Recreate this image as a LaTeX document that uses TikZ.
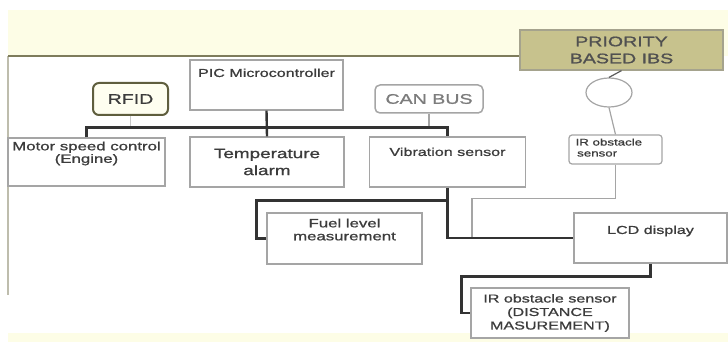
\documentclass[tikz,border=0pt]{standalone}
\usepackage{fontspec}
\newfontfamily\diagfont[FakeStretch=1.4, FakeBold=1]{Liberation Sans}
\usetikzlibrary{positioning, shapes.geometric}
\definecolor{band}{HTML}{FDFDE6}
\definecolor{rule}{HTML}{7E7C5C}
\definecolor{khaki}{HTML}{C7C28D}
\definecolor{olive}{HTML}{5F5E3E}
\definecolor{ink}{HTML}{3C3C3C}
\definecolor{inksoft}{HTML}{7C7C7C}
\definecolor{edge}{HTML}{A5A5A5}
\definecolor{wirebus}{HTML}{333333}

\begin{document}
\begin{tikzpicture}[x=1pt, y=-1pt,
  box/.style={draw=edge, line width=1.2pt, fill=white, inner sep=0pt},
  txt/.style={font=\diagfont\fontsize{11.5}{13.5}\selectfont, text=ink, align=center, inner sep=0pt},
  big/.style={font=\diagfont\fontsize{14}{17}\selectfont},
  bus/.style={line width=2.4pt, draw=wirebus},
  wire/.style={line width=1.2pt, draw=edge}
]
\useasboundingbox (0,0) rectangle (728,342);
% page background
\fill[white] (0,0) rectangle (728,342);
\fill[band] (8,10) rectangle (728,56);
\fill[band] (8,333) rectangle (728,342);
\draw[rule!50, line width=1.5pt] (8,56) -- (8,295);

\node[box, fill=khaki, draw=rule!70, minimum width=203pt, minimum height=40pt] (pri) at (621.5,50) {};
\draw[rule, line width=2pt] (8,56) -- (pri.west |- 8,56);
\node[box, fill=khaki, draw=rule!70, minimum width=203pt, minimum height=40pt, txt, big, text=ink!90] at (621.5,50) {PRIORITY\\BASED IBS};

% boxes
\node[box, minimum width=153pt, minimum height=50pt] (pic) at (266.5,85) {};
\node[txt, below=9pt of pic.north] {PIC Microcontroller};

\node[box, txt, big, rounded corners=6pt, draw=olive, line width=2pt, fill=band!60,
      minimum width=75pt, minimum height=32pt] (rfid) at (130.5,99) {RFID};
\node[box, txt, big, text=inksoft, rounded corners=5pt, line width=1.5pt,
      minimum width=108pt, minimum height=28pt] (can) at (429,99) {CAN BUS};

\node[box, ellipse, minimum width=46pt, minimum height=29pt] (ell) at (609,92.5) {};
\node[box, rounded corners=3pt, minimum width=93pt, minimum height=29pt] (irs) at (615.5,149.5) {};
\node[txt, align=left, anchor=north west, font=\diagfont\fontsize{9.5}{11}\selectfont]
     at ([xshift=7pt,yshift=-4pt]irs.north west) {IR obstacle\\\,sensor};

\node[box, minimum width=157pt, minimum height=48pt] (mot) at (86.5,162) {};
\node[txt, below=4pt of mot.north, font=\diagfont\fontsize{12}{12.5}\selectfont] {Motor speed control\\(Engine)};
\node[box, txt, font=\diagfont\fontsize{13.5}{17}\selectfont, minimum width=154pt, minimum height=50pt] (temp) at (267,162) {Temperature\\alarm};
\node[box, minimum width=156pt, minimum height=50pt] (vib) at (447.5,162) {};
\node[txt, below=11pt of vib.north] {Vibration sensor};

\node[box, minimum width=155pt, minimum height=51pt] (fuel) at (344.5,238.5) {};
\node[txt, below=6pt of fuel.north, font=\diagfont\fontsize{12}{13}\selectfont] {Fuel level\\measurement};
\node[box, minimum width=153pt, minimum height=50pt] (lcd) at (650.5,238) {};
\node[txt, below=13pt of lcd.north] {LCD display};
\node[box, txt, minimum width=158pt, minimum height=50pt] (irb) at (550,313) {IR obstacle sensor\\(DISTANCE\\MASUREMENT)};

% connectors
\coordinate (lcdjoin) at (472,238);
\draw[wire, draw=edge!60] (rfid.south) -- ++(0,13);
\draw[wire] (can.south) -- ++(0,15);
\draw[wire, draw=wirebus!80] (pri.south) -- (ell.north);
\draw[wire] (ell.south) -- (irs.north);
\draw[wire] (irs.south) -- ++(0,34) -| (lcdjoin);
\draw[bus] (mot.north) -- ++(0,-10) -| (vib.north);
\draw[bus] (pic.south) -- (temp.north);
\draw[bus] (vib.south) -- ++(0,13) coordinate (vj) -| ([xshift=-10pt]fuel.west) -- (fuel.west);
\draw[bus] (vj) |- (lcd.west);
\draw[bus] (lcd.south) -- ++(0,13) -| ([xshift=-9pt]irb.west) -- (irb.west);
\end{tikzpicture}
\end{document}
